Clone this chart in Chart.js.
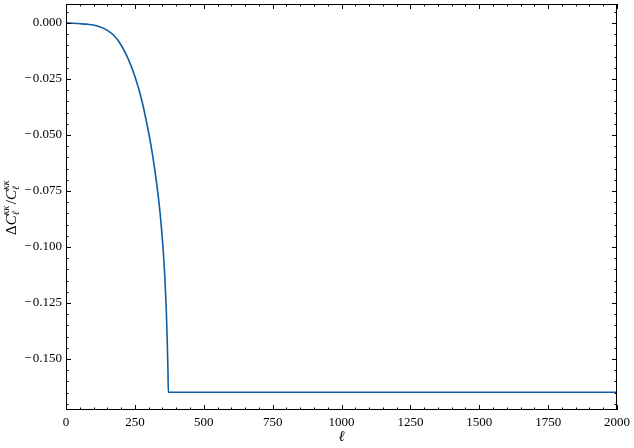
<!DOCTYPE html>
<html>
<head>
<meta charset="utf-8">
<script src="https://cdn.jsdelivr.net/npm/chart.js@4"></script>
<style>
  html, body { margin: 0; padding: 0; background: #fff; }
  #wrap { width: 634px; height: 448px; }
</style>
</head>
<body>
<div id="wrap"><canvas id="myChart" width="634" height="448"></canvas></div>
<script>
// multipole ell and fractional change of C_ell^kk
const ell = [0, 25, 50, 75, 100, 125, 150, 175, 200, 225, 250, 275, 300, 315, 330, 342, 352, 359, 364, 367.5, 370, 371.5, 2000];
const dCl = [0, -0.0001, -0.0003, -0.0005, -0.0009, -0.0018, -0.0033, -0.0057, -0.0098, -0.0158, -0.0238, -0.0345, -0.049, -0.0595, -0.0725, -0.0855, -0.1, -0.114, -0.128, -0.142, -0.155, -0.1649, -0.1649];
const xTicks = [0, 250, 500, 750, 1000, 1250, 1500, 1750, 2000];
const yTicks = [0, -0.025, -0.05, -0.075, -0.1, -0.125, -0.15];

const font = "'Liberation Serif', 'DejaVu Serif', serif";
const lineColor = "#0C5DA5";

// inward ticks on all four sides + frame, matplotlib style
const frameTicks = {
  id: "frameTicks",
  afterDraw(chart) {
    const ctx = chart.ctx;
    const a = chart.chartArea;
    const xs = chart.scales.x, ys = chart.scales.y;
    ctx.save();
    ctx.strokeStyle = "#000";
    ctx.lineWidth = 1;
    ctx.strokeRect(a.left + 0.5, a.top + 0.5, a.right - a.left - 1, a.bottom - a.top - 1);
    const major = 5, minor = 2.5;
    for (let v = 0; v <= 2000; v += 50) {
      const px = Math.round(xs.getPixelForValue(v)) + 0.5;
      const len = v % 250 === 0 ? major : minor;
      ctx.beginPath();
      ctx.moveTo(px, a.bottom); ctx.lineTo(px, a.bottom - len);
      ctx.moveTo(px, a.top); ctx.lineTo(px, a.top + len);
      ctx.stroke();
    }
    for (let i = -36; i <= 1; i++) {
      const v = i * 0.005;
      if (v < ys.min || v > ys.max) continue;
      const py = Math.round(ys.getPixelForValue(v)) + 0.5;
      const len = i % 5 === 0 ? major : minor;
      ctx.beginPath();
      ctx.moveTo(a.left, py); ctx.lineTo(a.left + len, py);
      ctx.moveTo(a.right, py); ctx.lineTo(a.right - len, py);
      ctx.stroke();
    }

    // axis labels
    ctx.fillStyle = "#000";
    ctx.textBaseline = "alphabetic";
    ctx.font = "italic 15px " + font;
    ctx.textAlign = "center";
    ctx.fillText("ℓ", (a.left + a.right) / 2, 441);

    // y label: ΔC_ℓ^κκ / C_ℓ^κκ
    ctx.translate(16, (a.top + a.bottom) / 2);
    ctx.rotate(-Math.PI / 2);
    const big = "15px " + font, bigI = "italic 15px " + font, small = "italic 10px " + font;
    const parts = [
      ["Δ", big, 0], ["C", bigI, 0], ["ℓ", small, 3, "κκ"],
      ["/", big, 0], ["C", bigI, 0], ["ℓ", small, 3, "κκ"]
    ];
    let w = 0;
    const widths = parts.map(p => {
      ctx.font = p[1];
      let pw = ctx.measureText(p[0]).width;
      if (p[3]) { pw = Math.max(pw, ctx.measureText(p[3]).width) + 1.5; }
      w += pw;
      return pw;
    });
    let x = -w / 2;
    ctx.textAlign = "left";
    parts.forEach((p, i) => {
      ctx.font = p[1];
      ctx.fillText(p[0], x, p[2]);
      if (p[3]) ctx.fillText(p[3], x, -7);
      x += widths[i];
    });
    ctx.restore();
  }
};

const ctx = document.getElementById("myChart").getContext("2d");
new Chart(ctx, {
  type: "scatter",
  data: {
    datasets: [{
      data: ell.map((l, i) => ({ x: l, y: dCl[i] })),
      showLine: true,
      borderColor: lineColor,
      borderWidth: 1.6,
      pointRadius: 0,
      cubicInterpolationMode: "monotone",
    }],
  },
  options: {
    responsive: false,
    animation: false,
    layout: { padding: { top: 4, right: 17, left: 0, bottom: 0 } },
    plugins: { legend: { display: false }, tooltip: { enabled: false } },
    scales: {
      x: {
        type: "linear",
        min: 0,
        max: 2000,
        grid: { display: false, drawTicks: false },
        border: { display: false },
        afterFit: (s) => { s.height = 38; s.paddingLeft = 0; s.paddingRight = 0; },
        afterBuildTicks: (s) => { s.ticks = xTicks.map(v => ({ value: v })); },
        ticks: {
          padding: 5,
          color: "#000",
          font: { family: font, size: 13 },
          maxRotation: 0,
          callback: (v) => String(v),
        },
      },
      y: {
        type: "linear",
        min: -0.1728,
        max: 0.0085,
        grid: { display: false, drawTicks: false },
        border: { display: false },
        afterFit: (s) => { s.width = 66; s.paddingTop = 0; s.paddingBottom = 0; },
        afterBuildTicks: (s) => { s.ticks = yTicks.map(v => ({ value: v })); },
        ticks: {
          padding: 4,
          color: "#000",
          font: { family: font, size: 13 },
          callback: (v) => (v === 0 ? "0.000" : "\u2212\u200A" + Math.abs(v).toFixed(3)),
        },
      },
    },
  },
  plugins: [frameTicks],
});
</script>
</body>
</html>
